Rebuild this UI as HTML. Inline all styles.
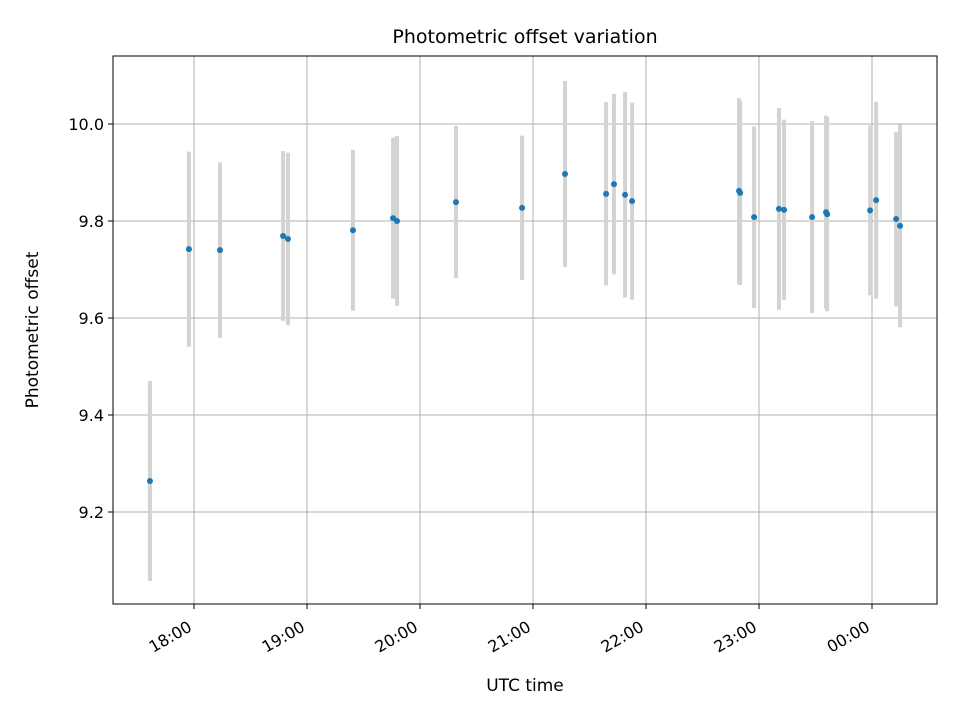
<!DOCTYPE html>
<html><head><meta charset="utf-8"><style>
html,body{margin:0;padding:0;background:#fff;}
svg text{font-family:"DejaVu Sans","Liberation Sans",sans-serif;fill:#000;}
</style></head><body>
<svg id="chart" width="960" height="720" xmlns="http://www.w3.org/2000/svg">
<rect width="960" height="720" fill="#fff"/>
<g id="grid"></g>
<g id="errs"></g>
<g id="pts"></g>
<rect x="113" y="56" width="824" height="548" fill="none" stroke="#000" stroke-width="1"/>
<g id="ticks"></g>
<text x="525" y="43" font-size="19" text-anchor="middle">Photometric offset variation</text>
<text x="525" y="691" font-size="17" text-anchor="middle">UTC time</text>
<text x="38" y="330" font-size="17" text-anchor="middle" transform="rotate(-90 38 330)">Photometric offset</text>
</svg>
<script>
// minutes relative to 18:00 UTC
const times=[-23.4,-2.7,13.8,47.3,49.9,84.4,105.7,107.8,139.1,174.2,197,218.8,223,228.9,232.6,289.4,290,297.4,310.6,313.3,328.2,335.6,336.2,359,362.2,372.8,374.9];
const values=[9.264,9.742,9.740,9.769,9.763,9.781,9.806,9.800,9.839,9.827,9.897,9.856,9.876,9.854,9.841,9.862,9.858,9.808,9.825,9.823,9.808,9.818,9.814,9.822,9.843,9.804,9.790];
const errors=[0.206,0.201,0.181,0.175,0.178,0.166,0.166,0.175,0.157,0.149,0.192,0.189,0.186,0.212,0.203,0.191,0.19,0.187,0.208,0.186,0.198,0.199,0.2,0.175,0.203,0.180,0.209];
const yTicks=[9.2,9.4,9.6,9.8,10.0];
const yTickLabels=["9.2","9.4","9.6","9.8","10.0"];
const xTicks=[0,60,120,180,240,300,360];
const xTickLabels=["18:00","19:00","20:00","21:00","22:00","23:00","00:00"];

const L=113,R=937,T=56,B=604;
const X0=-81/113*60, X1=(937-194)/113*60;
function x(m){return L+(m-X0)/(X1-X0)*(R-L);}
const Y0=9.2-92/485, Y1=10.0+68/485;
function y(v){return B-(v-Y0)/(Y1-Y0)*(B-T);}
const NS="http://www.w3.org/2000/svg";
function mk(tag,attrs,parent){const e=document.createElementNS(NS,tag);for(const k in attrs)e.setAttribute(k,attrs[k]);parent.appendChild(e);return e;}
const grid=document.getElementById('grid'),ticks=document.getElementById('ticks'),errs=document.getElementById('errs'),pts=document.getElementById('pts');
yTicks.forEach((v,i)=>{
  const yy=y(v);
  const g=mk('line',{x1:L,x2:R,y1:yy,y2:yy,stroke:'#b0b0b0','stroke-width':1},grid);
  
  
  const t=mk('line',{x1:L-5,x2:L,y1:yy,y2:yy,stroke:'#000'},ticks);
  
  
  const tx=mk('text',{x:L-9,y:yy+6,'font-size':16,'text-anchor':'end'},ticks);
  tx.textContent=yTickLabels[i];
  
  
});
xTicks.forEach((m,i)=>{
  const xx=x(m);
  const g=mk('line',{x1:xx,x2:xx,y1:T,y2:B,stroke:'#b0b0b0','stroke-width':1},grid);
  
  
  const t=mk('line',{x1:xx,x2:xx,y1:B,y2:B+5,stroke:'#000'},ticks);
  
  
  const ax=xx-1, ay=B+26;
  const tx=mk('text',{x:ax,y:ay,'font-size':16,'text-anchor':'end',transform:`rotate(-30 ${ax} ${ay})`},ticks);
  tx.textContent=xTickLabels[i];
  
  
});
times.forEach((m,i)=>{
  const xx=x(m);
  const e=mk('line',{x1:xx,x2:xx,y1:y(values[i]+errors[i]),y2:y(values[i]-errors[i]),stroke:'#d3d3d3','stroke-width':4},errs);
  
  
  const c=mk('circle',{cx:xx,cy:y(values[i]),r:3,fill:'#1f77b4'},pts);
  
  
});
</script>
</body></html>
